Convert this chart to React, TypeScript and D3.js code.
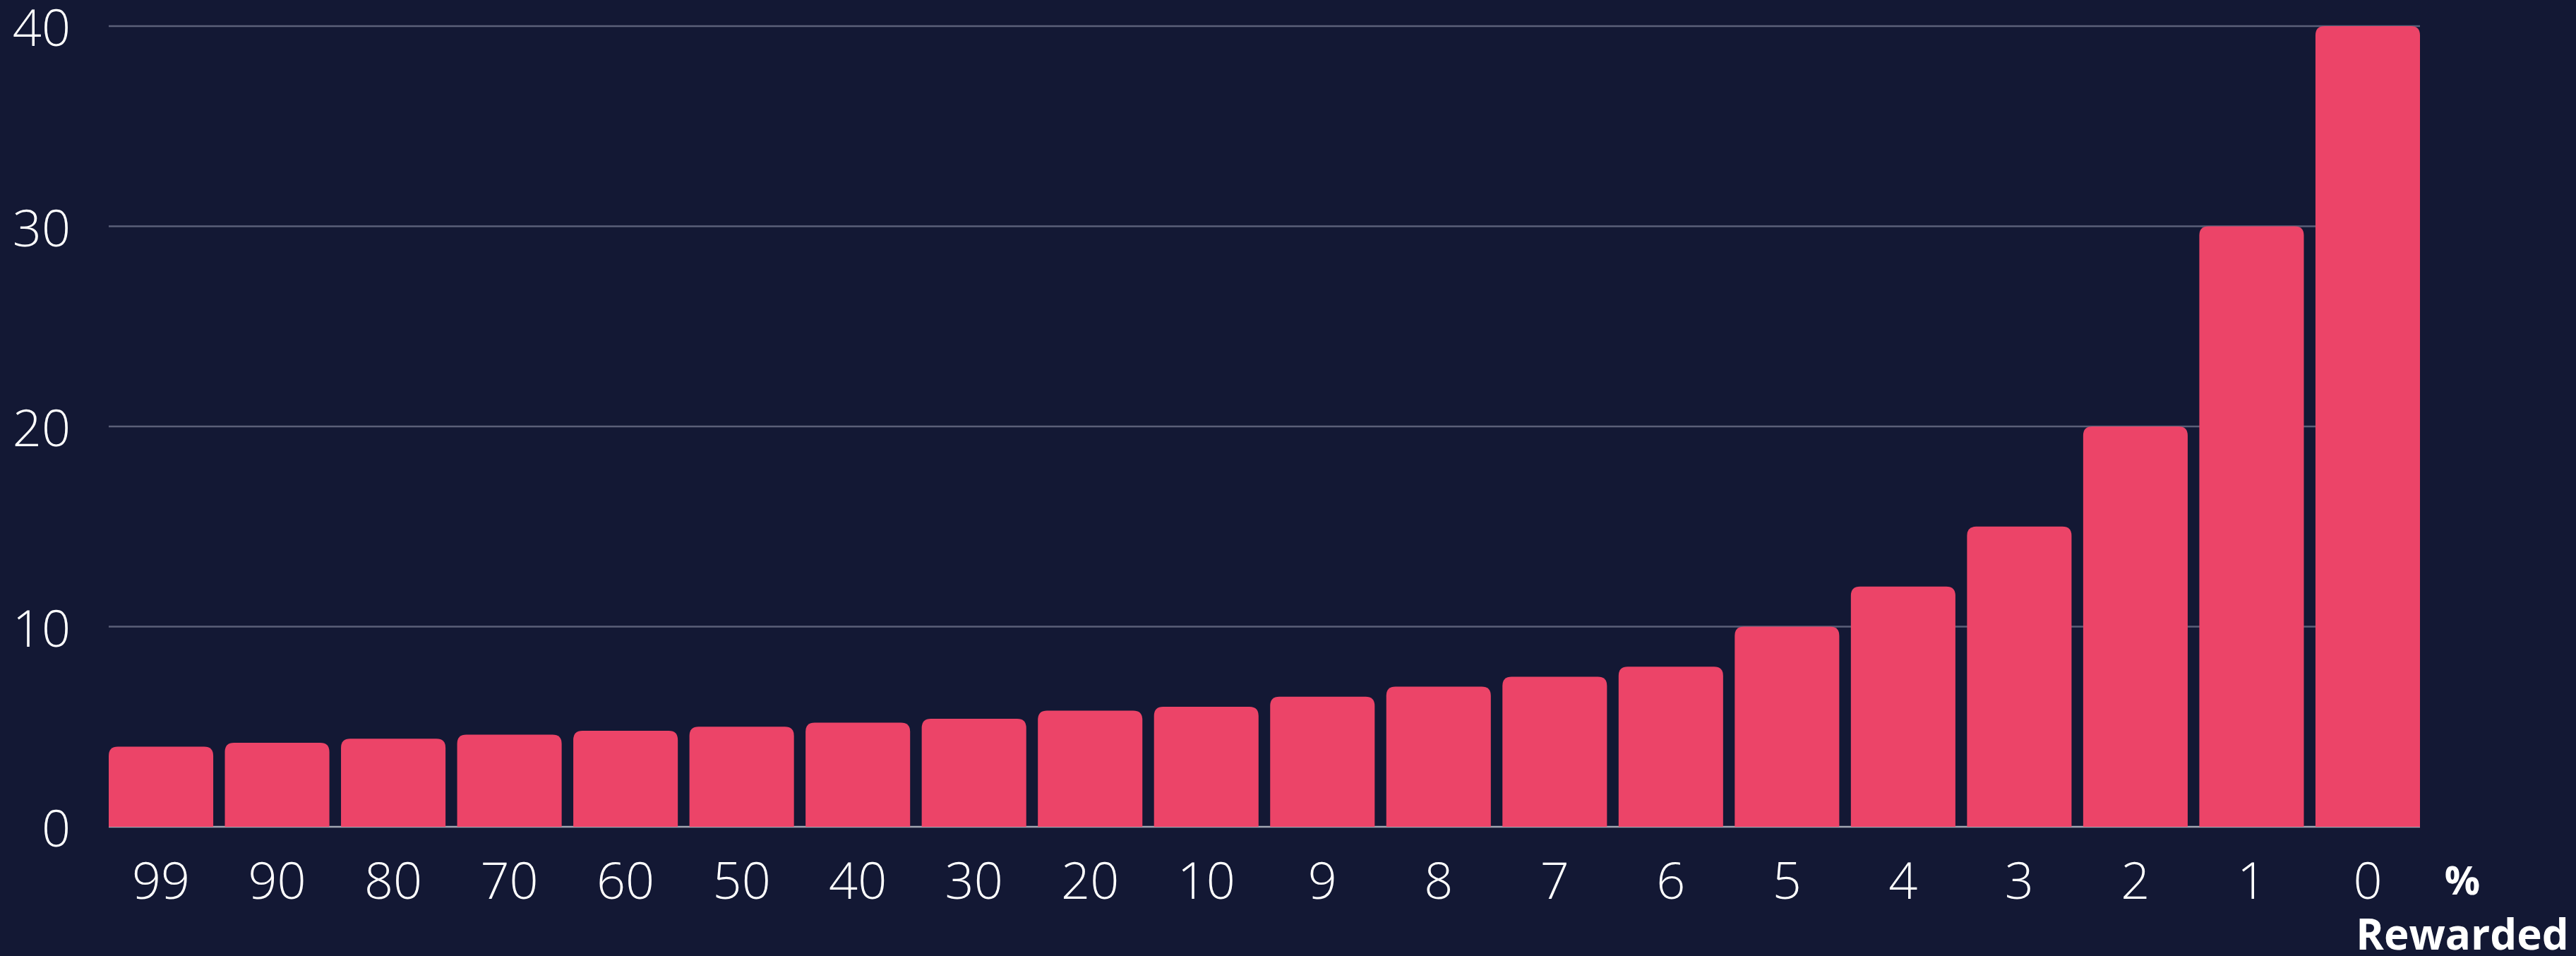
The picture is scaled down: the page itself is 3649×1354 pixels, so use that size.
import * as d3 from "d3";

const categories = ["99", "90", "80", "70", "60", "50", "40", "30", "20", "10", "9", "8", "7", "6", "5", "4", "3", "2", "1", "0"];
const values = [4, 4.2, 4.4, 4.6, 4.8, 5, 5.2, 5.4, 5.8, 6, 6.5, 7, 7.5, 8, 10, 12, 15, 20, 30, 40];
const yTicks = [0, 10, 20, 30, 40];

const W = 3649;
const H = 1354;
const BG = "#131834";
const BAR = "#ec4468";

// path for a bar with only the top corners rounded
function topRounded(x: number, y: number, w: number, h: number, r: number): string {
  const rr = Math.min(r, w / 2, h);
  return `M${x},${y + h}V${y + rr}Q${x},${y} ${x + rr},${y}H${x + w - rr}Q${x + w},${y} ${x + w},${y + rr}V${y + h}Z`;
}

export default function App() {
  const x = d3.scaleBand<string>().domain(categories).range([154, 3428]).paddingInner(0.1).paddingOuter(0);
  const y = d3.scaleLinear().domain([0, 40]).range([1171, 37]);

  return (
    <div>
      <style>{`body{margin:0;background:${BG}}`}</style>
      <svg width={W} height={H} style={{ display: "block", background: BG }}>
        <rect width={W} height={H} fill={BG} />
        {yTicks.filter(t => t > 0).map(t => (
          <line key={t} x1={154} x2={3428} y1={y(t)} y2={y(t)} stroke="#5b5f78" strokeWidth={2.6} />
        ))}
        <line x1={154} x2={3428} y1={y(0)} y2={y(0)} stroke="#a2a6b2" strokeWidth={2.5} />
        {values.map((v, i) => {
          const bx = x(categories[i])!;
          return <path key={i} d={topRounded(bx, y(v), x.bandwidth(), y(0) - y(v), 13)} fill={BAR} />;
        })}
        <g fontFamily="'Open Sans', sans-serif" fontWeight={300} fontSize={72} fill="#ffffff">
          {yTicks.map(t => (
            <text key={t} x={100} y={y(t)} textAnchor="end" dominantBaseline="central">{t}</text>
          ))}
          {categories.map(c => (
            <text key={c} x={x(c)! + x.bandwidth() / 2} y={1273} textAnchor="middle">{c}</text>
          ))}
        </g>
        <g fontFamily="'Open Sans', sans-serif" fontWeight={700} fill="#ffffff" textAnchor="middle">
          <text x={3488} y={1267} fontSize={56}>%</text>
          <text x={3488} y={1345} fontSize={60}>Rewarded</text>
        </g>
      </svg>
    </div>
  );
}
